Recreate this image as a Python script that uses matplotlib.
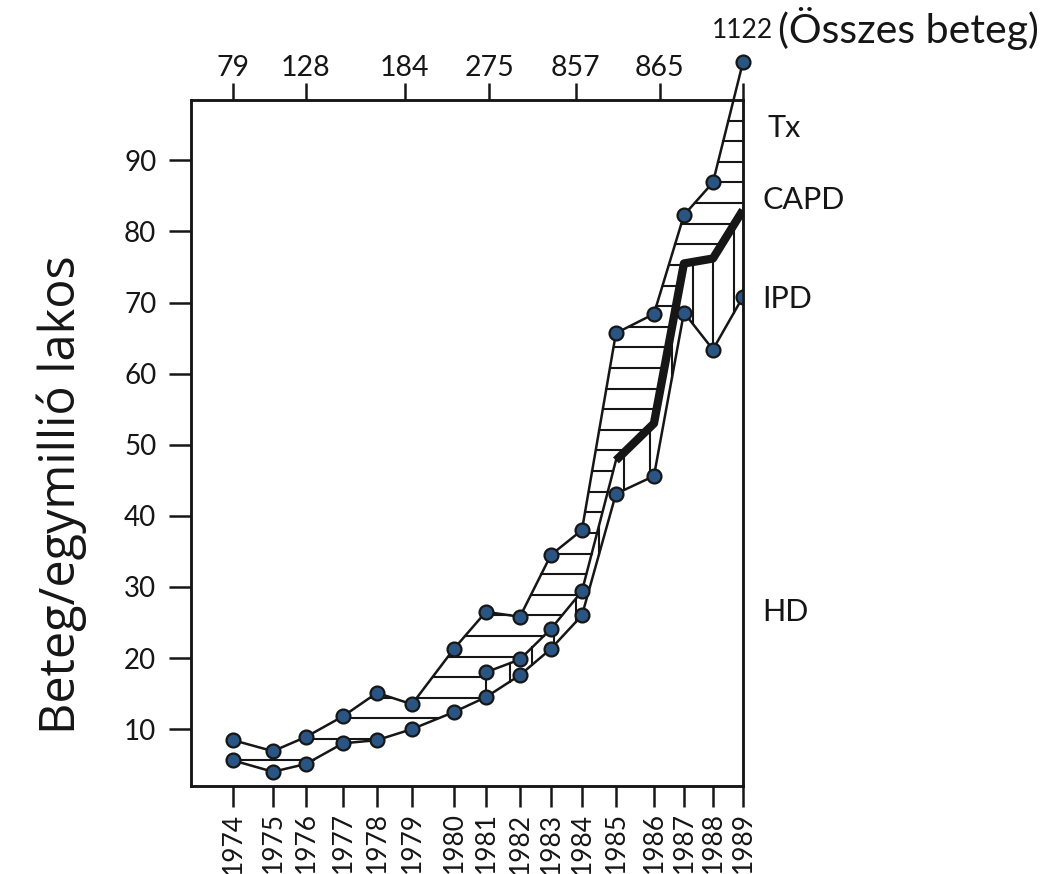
import numpy as np
import matplotlib
matplotlib.use('Agg')
import matplotlib.pyplot as plt

# adatok (beteg / egymillió lakos)
years = list(range(1974, 1990))
total = [8.45, 6.9, 8.9, 11.8, 15.1, 13.5, 21.3, 26.5, 25.8, 34.5, 38.0, 65.7, 68.4, 82.3, 86.9, 103.8]
hd = [5.6, 4.0, 5.1, 8.0, 8.45, 10.0, 12.4, 14.5, 17.6, 21.3, 26.0, 43.1, 45.6, 68.6, 63.4, 70.8]
mid_years = [1981, 1982, 1983, 1984]
mid = [18.0, 19.8, 24.1, 29.4]
thick_years = [1985, 1986, 1987, 1988, 1989]
thick = [47.8, 53.0, 75.5, 76.2, 83.0]

# felso tengely: osszes beteg
top_ticks = [1974, 1976, 1978.8, 1981.1, 1983.8, 1986.2, 1989]
top_labels = ['79', '128', '184', '275', '857', '865', '']

band_labels = ['Tx', 'CAPD', 'IPD', 'HD']
band_y = [94.5, 84.5, 70.5, 26.5]

# a kezzel rajzolt x tengely nem egyenletes
scale_years = [1972] + list(range(1973, 1991))
scale_px = [153, 193, 233, 273, 306, 343, 377, 412, 454, 486, 520, 551, 582,
            616, 654, 684, 713, 743, 783]


def fwd(x):
    return np.interp(x, scale_years, scale_px)


def inv(p):
    return np.interp(p, scale_px, scale_years)


dot = '#2a5582'
ink = '#161616'

fig = plt.figure(figsize=(10.43, 8.74), dpi=100)
ax = fig.add_axes([0.1831, 0.1007, 0.5292, 0.7849])
ax.set_xscale('function', functions=(fwd, inv))
ax.set_xlim(1972.95, 1989)
ax.set_ylim(2.0, 98.5)

# vonalkazas
xs = np.linspace(1974, 1989, 3001)
up = np.interp(xs, years, total)
lo = np.interp(xs, years, hd)
midline = np.interp(xs, mid_years + thick_years, mid + thick)
inner = np.where(xs < 1981, lo, midline)

for h in np.arange(5.7, 99, 2.9):
    mask = (up >= h) & (inner < h)
    idx = np.flatnonzero(np.diff(np.concatenate([[0], mask.astype(int), [0]])))
    for s, e in zip(idx[::2], idx[1::2]):
        if xs[e - 1] - xs[s] > 0.05:
            ax.plot([xs[s], xs[e - 1]], [h, h], color=ink, lw=1.5, zorder=2)

for vx in np.arange(1981, 1989, 0.7):
    y0 = np.interp(vx, years, hd)
    y1 = np.interp(vx, mid_years + thick_years, mid + thick)
    if y1 - y0 > 1:
        ax.plot([vx, vx], [y0, y1], color=ink, lw=1.5, zorder=2)

mk = dict(marker='o', ms=10, mfc=dot, mec=ink, mew=1.6)
ax.plot(years, total, color=ink, lw=1.8, clip_on=False, zorder=5, **mk)
ax.plot(years, hd, color=ink, lw=1.8, zorder=5, **mk)
ax.plot(mid_years + thick_years[:1], mid + thick[:1], color=ink, lw=1.8, zorder=4)
ax.plot(mid_years, mid, ls='none', zorder=5, **mk)
ax.plot(thick_years, thick, color=ink, lw=6, solid_capstyle='butt', zorder=4)

# tengelyek
for sp in ax.spines.values():
    sp.set_linewidth(1.8)
    sp.set_color(ink)
ax.set_yticks(range(10, 100, 10))
ax.set_xticks(years)
ax.set_xticklabels([str(y) for y in years], rotation=90, family='Lato', fontsize=19)
ax.tick_params(axis='y', length=16, width=1.8, pad=9, labelsize=20, colors=ink)
ax.tick_params(axis='x', length=15, width=1.8, pad=4, colors=ink)
for lab in ax.get_yticklabels():
    lab.set_family('Lato')

ax2 = ax.twiny()
ax2.set_xscale('function', functions=(fwd, inv))
ax2.set_xlim(ax.get_xlim())
ax2.set_xticks(top_ticks)
ax2.set_xticklabels(top_labels, family='Lato', fontsize=20.5)
ax2.tick_params(axis='x', length=12, width=1.8, pad=2, colors=ink)
for sp in ax2.spines.values():
    sp.set_linewidth(1.8)
    sp.set_color(ink)

for lab, yv in zip(band_labels, band_y):
    dx = 18 if lab == 'Tx' else 14
    ax.annotate(lab, xy=(1, yv), xycoords=('axes fraction', 'data'),
                xytext=(dx, 0), textcoords='offset points', ha='left', va='center',
                family='Lato', fontsize=22, color=ink, annotation_clip=False)

ax.annotate('1122', xy=(years[-1], total[-1]), xytext=(0, 23), textcoords='offset points',
            ha='center', va='center', family='Lato', fontsize=19, color=ink,
            annotation_clip=False)
ax.annotate('(Összes beteg)', xy=(years[-1], total[-1]), xytext=(25, 24),
            textcoords='offset points', ha='left', va='center', family='Lato',
            fontsize=29.5, color=ink, annotation_clip=False)

fig.text(62 / 1043, 1 - 495 / 874, 'Beteg/egymillió lakos', rotation=90,
         ha='center', va='center', family='Open Sans', fontsize=35, color=ink)

fig.savefig('out.png', dpi=100)
